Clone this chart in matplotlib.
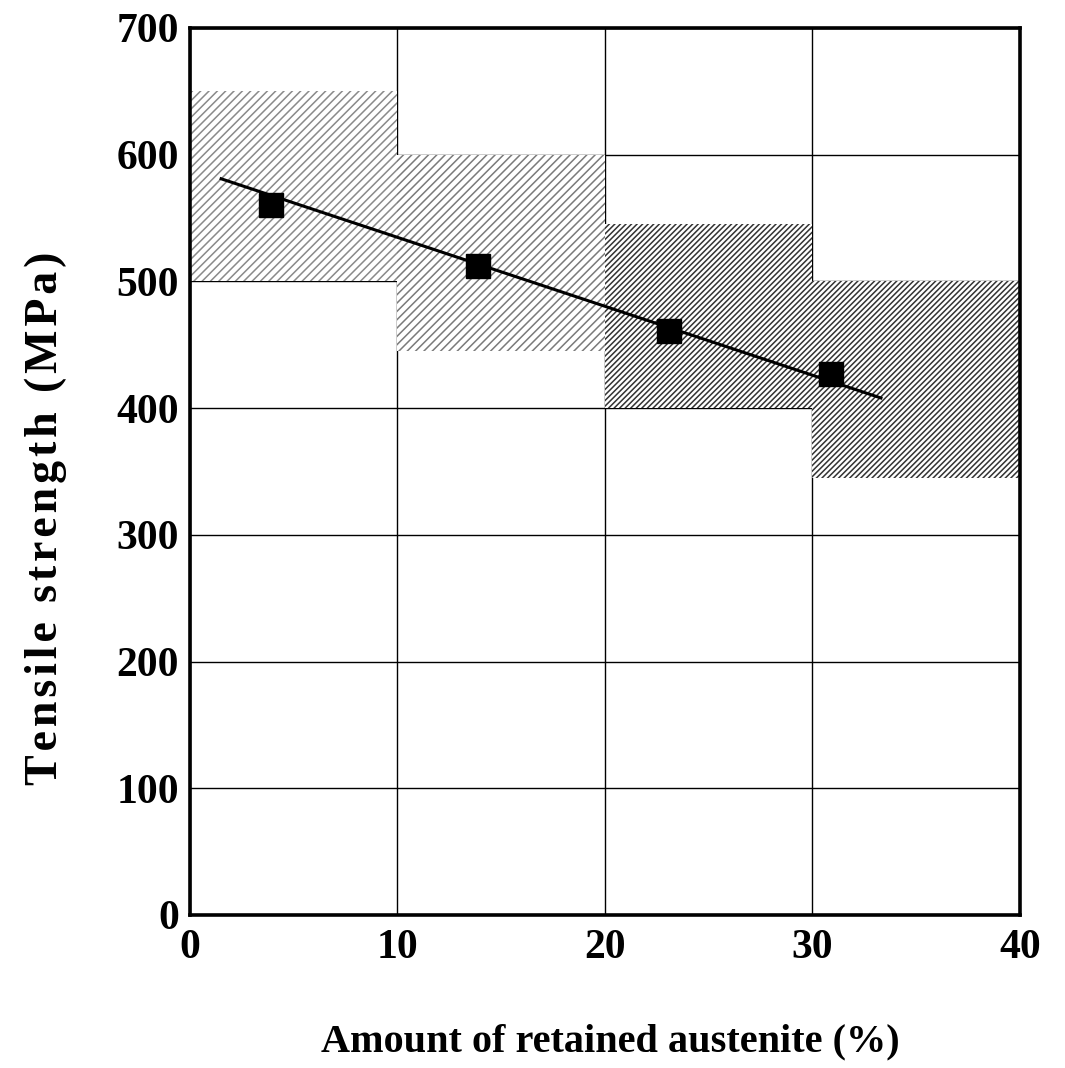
import matplotlib.pyplot as plt
import numpy as np

plt.rcParams['font.family'] = ['Liberation Serif', 'DejaVu Serif']
plt.rcParams['hatch.linewidth'] = 1.1

# scatter bands (retained austenite range -> tensile strength range)
band_left = [0, 10, 20, 30]
band_low = [500, 445, 400, 345]
band_high = [650, 600, 545, 500]
band_hatch = ['////', '////', '//////', '//////']
band_color = ['#8a8a8a', '#7a7a7a', '#333333', '#333333']

# mean values
austenite = [3.9, 13.9, 23.1, 30.9]
strength = [560, 512, 461, 427]

# regression line ends
fit_x = [1.5, 33.3]
fit_y = [581, 408]

fig = plt.figure(figsize=(10.65, 10.68), dpi=100)
ax = fig.add_axes([0.1784, 0.1433, 0.7793, 0.8305])

heights = np.array(band_high) - np.array(band_low)
ax.bar(band_left, heights, bottom=band_low, width=10, align='edge',
       facecolor='white', edgecolor=band_color, linewidth=0, zorder=2)
for i, b in enumerate(ax.patches):
    b.set_hatch(band_hatch[i])

ax.plot(fit_x, fit_y, color='black', lw=2.2, zorder=3)
ax.plot(austenite, strength, 's', color='black', ms=17, zorder=4)

ax.set_xlim(0, 40)
ax.set_ylim(0, 700)
ax.set_xticks(np.arange(0, 41, 10))
ax.set_yticks(np.arange(0, 701, 100))
ax.grid(True, color='black', lw=1.0, zorder=1)
ax.set_axisbelow(True)
ax.tick_params(length=0, labelsize=30)
ax.tick_params(axis='y', pad=8)
ax.tick_params(axis='x', pad=10)
for lab in ax.get_xticklabels() + ax.get_yticklabels():
    lab.set_fontweight('bold')
for s in ax.spines.values():
    s.set_linewidth(2.6)
    s.set_zorder(5)

# slightly letter-spaced label like the original print
ylab = '\u200a'.join('Tensile strength (MPa)')
fig.text(0.043, 0.515, ylab, fontsize=33, fontweight='bold', rotation=90,
         ha='center', va='center')
fig.text(0.573, 0.024, 'Amount of retained austenite (%)', fontsize=29,
         fontweight='bold', ha='center', va='center')

fig.savefig('out.png', dpi=100)
